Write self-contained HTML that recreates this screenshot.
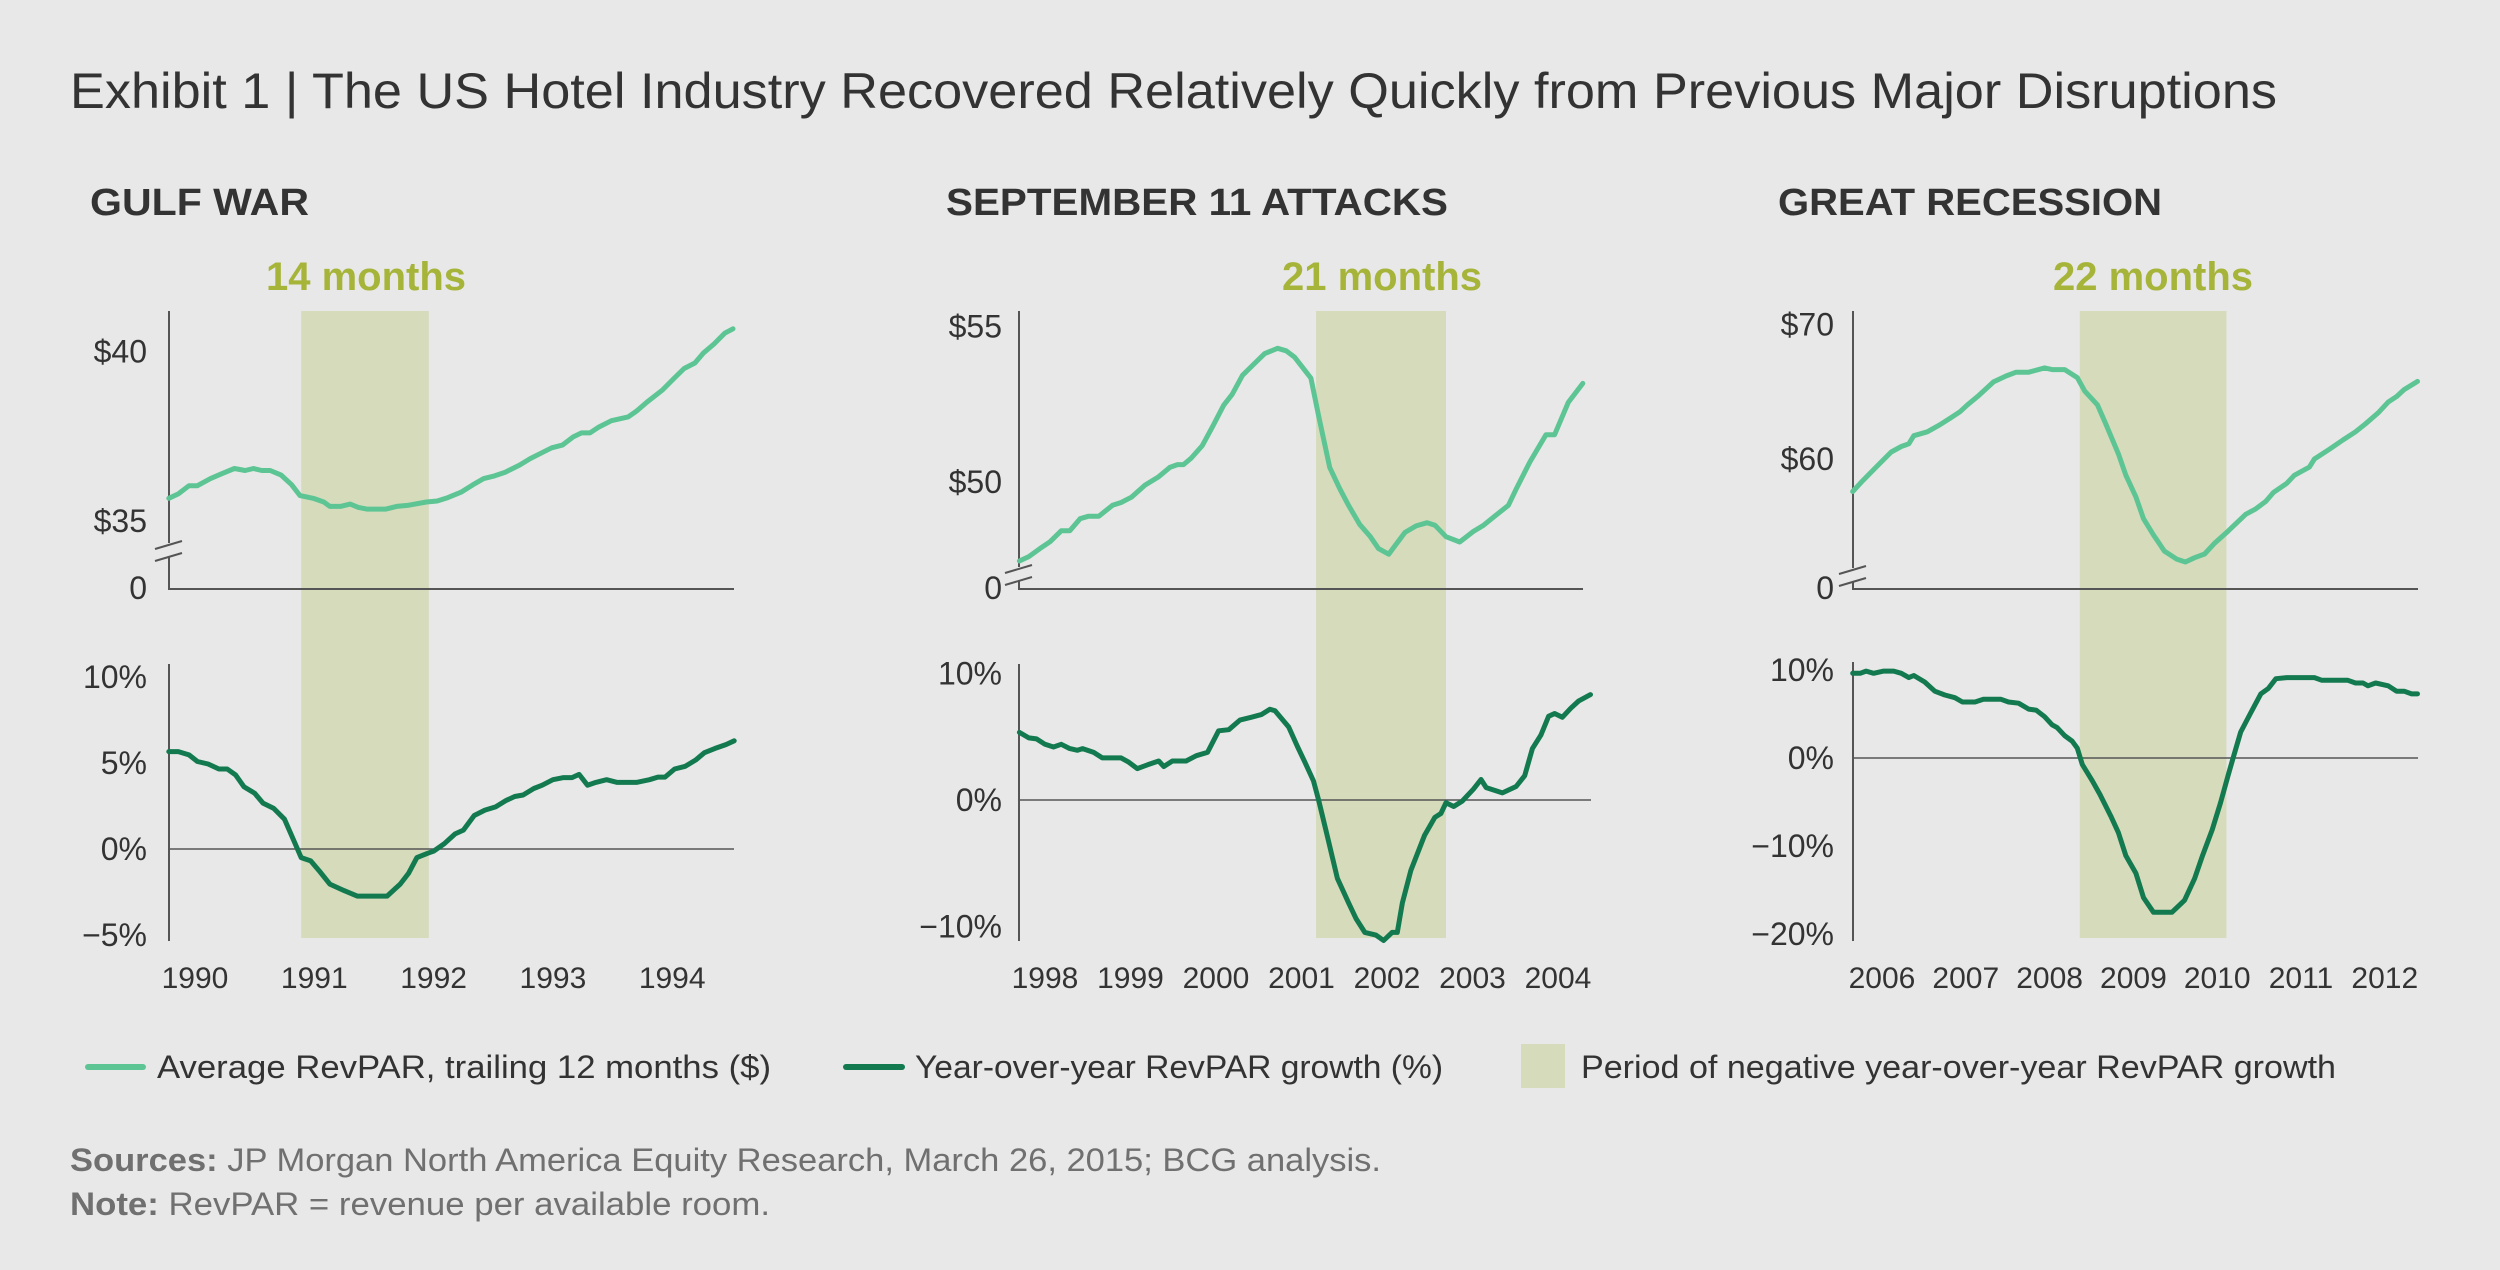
<!DOCTYPE html>
<html><head><meta charset="utf-8"><style>
html,body{margin:0;padding:0;background:#e8e8e8;}
svg{display:block;font-family:"Liberation Sans",sans-serif;}
</style></head><body>
<svg id="chart" width="2500" height="1270" viewBox="0 0 2500 1270" xmlns="http://www.w3.org/2000/svg">
<rect width="2500" height="1270" fill="#e8e8e8"/>
<text x="70" y="108" font-size="50" fill="#333" textLength="2207" lengthAdjust="spacingAndGlyphs">Exhibit 1 | The US Hotel Industry Recovered Relatively Quickly from Previous Major Disruptions</text>
<g id="panels"></g>
<g>
<line x1="88" y1="1067" x2="143" y2="1067" stroke="#5dc594" stroke-width="6" stroke-linecap="round"/>
<text x="157" y="1078" font-size="32" fill="#333" textLength="614" lengthAdjust="spacingAndGlyphs">Average RevPAR, trailing 12 months ($)</text>
<line x1="846" y1="1067" x2="902" y2="1067" stroke="#137a50" stroke-width="6" stroke-linecap="round"/>
<text x="915" y="1078" font-size="32" fill="#333" textLength="528" lengthAdjust="spacingAndGlyphs">Year-over-year RevPAR growth (%)</text>
<rect x="1521" y="1044" width="44" height="44" fill="#d6dbbc"/>
<text x="1581" y="1078" font-size="32" fill="#333" textLength="755" lengthAdjust="spacingAndGlyphs">Period of negative year-over-year RevPAR growth</text>
</g>
<text x="70" y="1171" font-size="32" fill="#707070" textLength="1311" lengthAdjust="spacingAndGlyphs"><tspan font-weight="bold">Sources:</tspan> JP Morgan North America Equity Research, March 26, 2015; BCG analysis.</text>
<text x="70" y="1215" font-size="32" fill="#707070" textLength="700" lengthAdjust="spacingAndGlyphs"><tspan font-weight="bold">Note:</tspan> RevPAR = revenue per available room.</text>
</svg>
<script>
// ---- Panel 1: Gulf War ----
const gulfRevparYears=[1990.28,1990.36,1990.45,1990.52,1990.63,1990.72,1990.83,1990.92,1990.99,1991.06,1991.13,1991.22,1991.31,1991.38,1991.49,1991.58,1991.63,1991.72,1991.80,1991.87,1991.94,1992.10,1992.19,1992.28,1992.44,1992.53,1992.62,1992.73,1992.83,1992.92,1993.01,1993.10,1993.22,1993.31,1993.40,1993.49,1993.58,1993.67,1993.74,1993.81,1993.88,1993.99,1994.13,1994.20,1994.29,1994.42,1994.51,1994.60,1994.69,1994.76,1994.85,1994.94,1995.01];
const gulfRevpar=[35.67,35.80,36.04,36.04,36.25,36.39,36.55,36.49,36.55,36.49,36.49,36.36,36.07,35.75,35.67,35.56,35.43,35.43,35.50,35.40,35.35,35.35,35.43,35.46,35.56,35.59,35.69,35.85,36.07,36.25,36.33,36.44,36.65,36.84,37.00,37.16,37.24,37.48,37.60,37.60,37.76,37.96,38.07,38.24,38.51,38.87,39.19,39.50,39.66,39.95,40.22,40.54,40.67];
const gulfGrowthYears=[1990.28,1990.36,1990.45,1990.52,1990.61,1990.70,1990.77,1990.84,1990.91,1991.00,1991.07,1991.16,1991.25,1991.32,1991.39,1991.47,1991.54,1991.63,1991.75,1991.86,1992.00,1992.11,1992.22,1992.29,1992.36,1992.45,1992.50,1992.59,1992.68,1992.75,1992.84,1992.93,1993.02,1993.11,1993.18,1993.25,1993.34,1993.41,1993.50,1993.59,1993.66,1993.72,1993.79,1993.86,1993.95,1994.04,1994.20,1994.31,1994.38,1994.44,1994.52,1994.61,1994.70,1994.77,1994.86,1994.95,1995.02];
const gulfGrowth=[5.66,5.66,5.47,5.09,4.94,4.65,4.65,4.31,3.62,3.24,2.67,2.36,1.73,0.63,-0.50,-0.69,-1.26,-2.04,-2.42,-2.74,-2.74,-2.74,-2.04,-1.42,-0.50,-0.25,-0.13,0.31,0.88,1.10,1.95,2.26,2.45,2.83,3.05,3.14,3.52,3.71,4.03,4.15,4.15,4.34,3.71,3.87,4.03,3.87,3.87,4.03,4.18,4.18,4.65,4.81,5.19,5.60,5.85,6.07,6.29];
const gulfShade=[1991.39,1992.46];
const gulfYearLabels=["1990","1991","1992","1993","1994"];
const gulfDollarTicks=[35,40];
const gulfDollarLabels=["$35","$40"];
const gulfPctTicks=[10,5,0,-5];
const gulfPctLabels=["10%","5%","0%","\u22125%"];

// ---- Panel 2: September 11 ----
const sepRevparYears=[1998.20,1998.31,1998.44,1998.56,1998.69,1998.79,1998.91,1999.01,1999.13,1999.29,1999.39,1999.51,1999.67,1999.83,1999.96,2000.05,2000.12,2000.21,2000.34,2000.46,2000.59,2000.69,2000.81,2000.94,2001.07,2001.22,2001.32,2001.42,2001.51,2001.61,2001.70,2001.83,2001.95,2002.05,2002.18,2002.30,2002.40,2002.52,2002.59,2002.71,2002.84,2002.97,2003.06,2003.19,2003.35,2003.51,2003.63,2003.76,2003.92,2004.01,2004.17,2004.36,2004.46,2004.62,2004.79];
const sepRevpar=[47.46,47.60,47.86,48.08,48.43,48.43,48.82,48.90,48.90,49.25,49.34,49.51,49.90,50.17,50.47,50.56,50.56,50.77,51.17,51.78,52.47,52.82,53.43,53.78,54.13,54.30,54.22,54.01,53.69,53.34,52.13,50.47,49.77,49.25,48.64,48.26,47.86,47.68,47.94,48.38,48.59,48.69,48.61,48.24,48.07,48.41,48.61,48.90,49.25,49.77,50.64,51.52,51.52,52.56,53.17];
const sepGrowthYears=[1998.20,1998.31,1998.40,1998.50,1998.60,1998.69,1998.79,1998.88,1998.94,1999.07,1999.17,1999.39,1999.48,1999.58,1999.70,1999.83,1999.89,1999.99,2000.15,2000.27,2000.40,2000.53,2000.65,2000.78,2000.91,2001.03,2001.13,2001.19,2001.35,2001.45,2001.54,2001.64,2001.70,2001.80,2001.92,2002.05,2002.14,2002.24,2002.37,2002.46,2002.56,2002.62,2002.68,2002.78,2002.94,2003.06,2003.13,2003.19,2003.28,2003.38,2003.51,2003.60,2003.66,2003.85,2004.01,2004.11,2004.20,2004.30,2004.39,2004.46,2004.55,2004.65,2004.74,2004.88];
const sepGrowth=[5.34,4.91,4.83,4.40,4.19,4.40,4.06,3.93,4.06,3.76,3.33,3.33,2.99,2.48,2.78,3.08,2.65,3.08,3.08,3.50,3.76,5.47,5.56,6.32,6.54,6.75,7.18,7.05,5.77,4.27,2.99,1.50,0,-2.78,-6.20,-8.12,-9.40,-10.47,-10.68,-11.11,-10.47,-10.47,-8.12,-5.56,-2.78,-1.37,-1.07,-0.21,-0.51,-0.09,0.85,1.62,0.98,0.56,1.07,1.92,4.06,5.13,6.62,6.84,6.54,7.26,7.82,8.33];
const sepShade=[2001.67,2003.19];
const sepYearLabels=["1998","1999","2000","2001","2002","2003","2004"];
const sepDollarTicks=[50,55];
const sepDollarLabels=["$50","$55"];
const sepPctTicks=[10,0,-10];
const sepPctLabels=["10%","0%","\u221210%"];

// ---- Panel 3: Great Recession ----
const grRevparYears=[2006.15,2006.27,2006.43,2006.61,2006.73,2006.82,2006.88,2007.04,2007.19,2007.31,2007.43,2007.52,2007.64,2007.83,2007.98,2008.10,2008.25,2008.44,2008.53,2008.68,2008.83,2008.92,2009.07,2009.17,2009.32,2009.41,2009.53,2009.62,2009.74,2009.87,2010.02,2010.12,2010.23,2010.35,2010.47,2010.63,2010.84,2010.96,2011.08,2011.17,2011.33,2011.42,2011.60,2011.66,2011.84,2012.00,2012.15,2012.27,2012.42,2012.54,2012.64,2012.73,2012.89];
const grRevpar=[57.58,58.39,59.40,60.52,60.93,61.13,61.73,62.02,62.54,63.02,63.51,64.03,64.64,65.73,66.17,66.45,66.45,66.77,66.65,66.65,66.05,65.04,64.03,62.62,60.40,58.79,57.18,55.56,54.35,53.15,52.54,52.34,52.66,52.94,53.75,54.64,55.89,56.29,56.85,57.50,58.19,58.79,59.40,60.00,60.73,61.41,62.02,62.62,63.43,64.23,64.64,65.16,65.77];
const grGrowthYears=[2006.15,2006.24,2006.31,2006.40,2006.52,2006.64,2006.73,2006.82,2006.88,2007.01,2007.13,2007.25,2007.37,2007.46,2007.61,2007.71,2007.92,2008.01,2008.13,2008.25,2008.34,2008.44,2008.53,2008.59,2008.68,2008.77,2008.83,2008.89,2009.01,2009.10,2009.23,2009.32,2009.41,2009.53,2009.62,2009.74,2009.96,2010.11,2010.23,2010.32,2010.44,2010.54,2010.63,2010.69,2010.78,2010.90,2011.02,2011.11,2011.20,2011.33,2011.66,2011.75,2012.06,2012.15,2012.24,2012.30,2012.39,2012.54,2012.64,2012.73,2012.82,2012.89];
const grGrowth=[9.63,9.63,9.88,9.63,9.88,9.88,9.63,9.14,9.38,8.64,7.59,7.16,6.85,6.36,6.36,6.67,6.67,6.36,6.23,5.56,5.43,4.69,3.77,3.46,2.53,1.91,1.11,-0.74,-2.59,-4.14,-6.60,-8.46,-11.11,-13.09,-15.86,-17.53,-17.53,-16.17,-13.70,-11.23,-8.15,-5.06,-1.98,0,2.96,5.12,7.28,7.90,9.01,9.14,9.14,8.83,8.83,8.52,8.52,8.21,8.52,8.21,7.59,7.59,7.28,7.28];
const grShade=[2008.86,2010.61];
const grYearLabels=["2006","2007","2008","2009","2010","2011","2012"];
const grDollarTicks=[60,70];
const grDollarLabels=["$60","$70"];
const grPctTicks=[10,0,-10,-20];
const grPctLabels=["10%","0%","\u221210%","\u221220%"];

const NS="http://www.w3.org/2000/svg";
const root=document.getElementById('panels');
function mk(tag,attrs,parent){const e=document.createElementNS(NS,tag);for(const k in attrs)e.setAttribute(k,attrs[k]);(parent||root).appendChild(e);return e;}

const layouts=[
 {key:'gulf',title:'GULF WAR',titleX:90,titleW:219,months:'14 months',monthsX:366,axisX:169,upEnd:734,lowEnd:734,labelRight:147,
  x0:195,t0:1990.5,pxYr:119.3,firstYear:1990,
  dRef:35,dRefY:521,dPx:33.9,pRef:0,pRefY:849,pPx:17.2,lowTop:664,breakY:549,
  years:gulfRevparYears,rev:gulfRevpar,gy:gulfGrowthYears,gr:gulfGrowth,shade:gulfShade,yl:gulfYearLabels,dt:gulfDollarTicks,dl:gulfDollarLabels,pt:gulfPctTicks,pl:gulfPctLabels},
 {key:'sept11',title:'SEPTEMBER 11 ATTACKS',titleX:946,titleW:502,months:'21 months',monthsX:1382,axisX:1019,upEnd:1583,lowEnd:1591,labelRight:1002,
  x0:1045,t0:1998.5,pxYr:85.5,firstYear:1998,
  dRef:50,dRefY:482,dPx:31.1,pRef:0,pRefY:800,pPx:12.65,lowTop:664,breakY:573,
  years:sepRevparYears,rev:sepRevpar,gy:sepGrowthYears,gr:sepGrowth,shade:sepShade,yl:sepYearLabels,dt:sepDollarTicks,dl:sepDollarLabels,pt:sepPctTicks,pl:sepPctLabels},
 {key:'recession',title:'GREAT RECESSION',titleX:1778,titleW:384,months:'22 months',monthsX:2153,axisX:1853,upEnd:2418,lowEnd:2418,labelRight:1834,
  x0:1882,t0:2006.5,pxYr:83.8,firstYear:2006,
  dRef:60,dRefY:459,dPx:13.45,pRef:0,pRefY:758,pPx:8.8,lowTop:662,breakY:574,
  years:grRevparYears,rev:grRevpar,gy:grGrowthYears,gr:grGrowth,shade:grShade,yl:grYearLabels,dt:grDollarTicks,dl:grDollarLabels,pt:grPctTicks,pl:grPctLabels}
];

layouts.forEach(L=>{
  const g=mk('g',{});
  
  
  const xs=t=>L.x0+(t-L.t0)*L.pxYr;
  const yd=v=>L.dRefY-(v-L.dRef)*L.dPx;
  const yp=v=>L.pRefY-(v-L.pRef)*L.pPx;
  const upTop=311, upBase=589, lowBot=941;

  const title=mk('text',{x:L.titleX,y:215,'font-size':38,'font-weight':'bold',fill:'#333',textLength:L.titleW,lengthAdjust:'spacingAndGlyphs'},g);
  title.textContent=L.title;
  
  

  const mo=mk('text',{x:L.monthsX,y:290,'font-size':40,'font-weight':'bold',fill:'#a7b43a','text-anchor':'middle'},g);
  mo.textContent=L.months;
  
  

  const sx1=xs(L.shade[0]), sx2=xs(L.shade[1]);
  const sh=mk('rect',{x:sx1,y:upTop,width:sx2-sx1,height:938-upTop,fill:'#d6dbbc'},g);
  
  

  const ua=mk('path',{d:`M${L.axisX},${upTop}V${L.breakY-6}M${L.axisX},${L.breakY+7}V${upBase}H${L.upEnd}`,stroke:'#555',fill:'none','stroke-width':2},g);
  
  
  const br=mk('path',{d:`M${L.axisX-14},${L.breakY+0}L${L.axisX+13},${L.breakY-8}M${L.axisX-14},${L.breakY+12}L${L.axisX+13},${L.breakY+4}`,stroke:'#555','stroke-width':2,fill:'none'},g);
  
  
  L.dt.forEach((v,i)=>{
    const t=mk('text',{x:L.labelRight,y:yd(v)+11,'font-size':32,fill:'#333','text-anchor':'end'},g);
    t.textContent=L.dl[i];
    
    
  });
  const z=mk('text',{x:L.labelRight,y:upBase+10,'font-size':32,fill:'#333','text-anchor':'end'},g);
  z.textContent='0';
  
  

  const la=mk('path',{d:`M${L.axisX},${L.lowTop}V${lowBot}`,stroke:'#555','stroke-width':2,fill:'none'},g);
  
  
  const zl=mk('path',{d:`M${L.axisX},${yp(0)}H${L.lowEnd}`,stroke:'#555','stroke-width':1.5,fill:'none'},g);
  
  
  L.pt.forEach((v,i)=>{
    const t=mk('text',{x:L.labelRight,y:yp(v)+11,'font-size':32,fill:'#333','text-anchor':'end'},g);
    t.textContent=L.pl[i];
    
    
  });
  L.yl.forEach((s,i)=>{
    const t=mk('text',{x:xs(L.firstYear+i+0.5),y:988,'font-size':30,fill:'#333','text-anchor':'middle'},g);
    t.textContent=s;
    
    
  });

  const d1=L.years.map((t,i)=>(i?'L':'M')+xs(t).toFixed(1)+','+yd(L.rev[i]).toFixed(1)).join('');
  const p1=mk('path',{d:d1,stroke:'#5dc594','stroke-width':5,fill:'none','stroke-linejoin':'round','stroke-linecap':'round'},g);
  
  
  const d2=L.gy.map((t,i)=>(i?'L':'M')+xs(t).toFixed(1)+','+yp(L.gr[i]).toFixed(1)).join('');
  const p2=mk('path',{d:d2,stroke:'#137a50','stroke-width':5,fill:'none','stroke-linejoin':'round','stroke-linecap':'round'},g);
  
  
});
</script>
</body></html>
